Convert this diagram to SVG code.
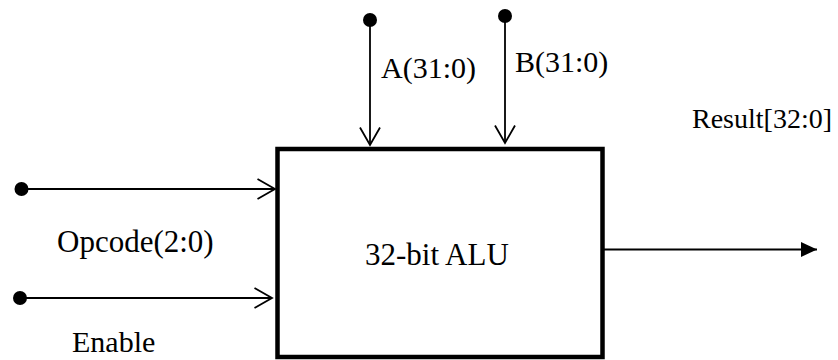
<svg xmlns="http://www.w3.org/2000/svg" width="838" height="360" viewBox="0 0 838 360">
<style>
text{font-family:'Liberation Serif','Times New Roman',Times,serif;font-size:30px;fill:#000}
.big{font-size:31px}
.wire{stroke:#000;stroke-width:1.8;fill:none}
.dot{fill:#000}
</style>
<defs>
<marker id="open" viewBox="0 0 20 22" refX="18.5" refY="11" markerWidth="20" markerHeight="22" markerUnits="userSpaceOnUse" orient="auto">
<path d="M1,1 L18.5,11 L1,21" fill="none" stroke="#000" stroke-width="1.8"/>
</marker>
<marker id="solid" viewBox="0 0 16 15" refX="16" refY="7.5" markerWidth="16" markerHeight="15" markerUnits="userSpaceOnUse" orient="auto">
<path d="M0,0 L16,7.5 L0,15 z" fill="#000"/>
</marker>
</defs>
<g id="connectors">
<line class="wire" x1="370" y1="20" x2="370" y2="145" marker-end="url(#open)"/>
<line class="wire" x1="505" y1="16" x2="505" y2="143" marker-end="url(#open)"/>
<line class="wire" x1="21" y1="189" x2="275" y2="189" marker-end="url(#open)"/>
<line class="wire" x1="20" y1="298" x2="272" y2="298" marker-end="url(#open)"/>
<line class="wire" x1="604" y1="249.5" x2="817" y2="249.5" marker-end="url(#solid)"/>
<circle class="dot" cx="370" cy="20" r="7"/>
<circle class="dot" cx="505" cy="16" r="7"/>
<circle class="dot" cx="21.5" cy="189" r="7"/>
<circle class="dot" cx="20" cy="298" r="7"/>
<text x="381" y="78">A(31:0)</text>
<text x="515" y="72">B(31:0)</text>
<text class="big" x="57" y="252">Opcode(2:0)</text>
<text x="72" y="352">Enable</text>
<text x="692" y="128" style="font-size:28px">Result[32:0]</text>
</g>
<g id="alu">
<rect x="277.5" y="149" width="325" height="208" fill="#fff" stroke="#000" stroke-width="4.5"/>
<text class="big" x="365" y="265">32-bit ALU</text>
</g>
</svg>
